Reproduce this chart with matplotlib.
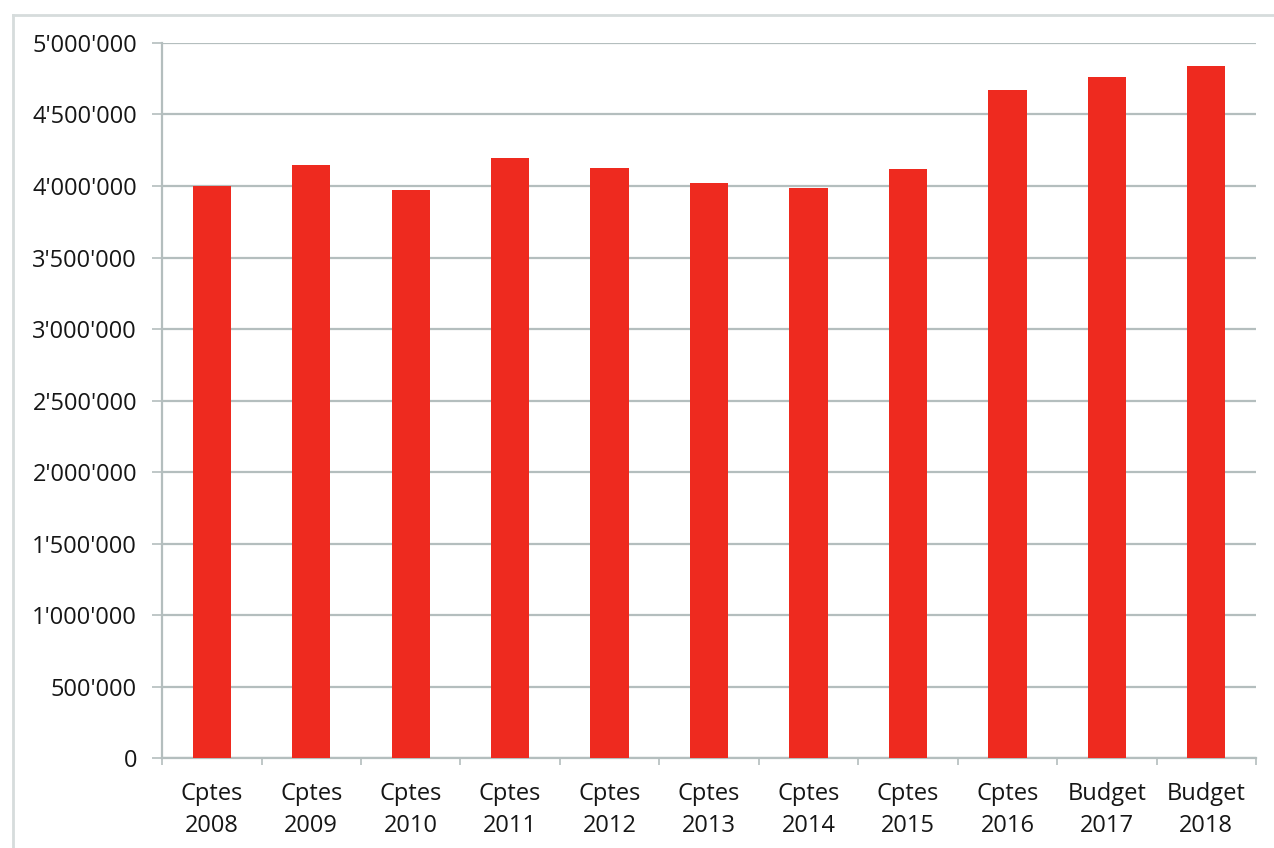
import matplotlib
matplotlib.use("Agg")
import matplotlib.pyplot as plt
from matplotlib.ticker import FuncFormatter, FixedLocator
from matplotlib.lines import Line2D

# Data
labels = ["Cptes\n2008", "Cptes\n2009", "Cptes\n2010", "Cptes\n2011", "Cptes\n2012",
          "Cptes\n2013", "Cptes\n2014", "Cptes\n2015", "Cptes\n2016",
          "Budget\n2017", "Budget\n2018"]
values = [4002000, 4145000, 3974000, 4196000, 4128000,
          4019000, 3988000, 4121000, 4673000, 4759000, 4836000]
yticks = [0, 500000, 1000000, 1500000, 2000000, 2500000,
          3000000, 3500000, 4000000, 4500000, 5000000]

plt.rcParams['font.family'] = ['Open Sans', 'DejaVu Sans']

fig = plt.figure(figsize=(12.74, 8.48), dpi=100)
ax = fig.add_axes([0.1272, 0.1061, 0.8587, 0.8432])

x = list(range(len(values)))
ax.bar(x, values, width=0.385, color='#EE2A1F', zorder=3)

ax.set_xlim(-0.5, len(values) - 0.5)
ax.set_ylim(0, 5000000)

grid_col = '#b4bebe'
ax.set_yticks(yticks)
ax.yaxis.set_major_formatter(FuncFormatter(lambda v, p: f"{int(v):,}".replace(",", "'")))
ax.yaxis.grid(True, color=grid_col, linewidth=1.6, zorder=0)

# category boundaries get the tick marks, labels sit in between
ax.xaxis.set_major_locator(FixedLocator([i - 0.5 for i in range(len(values) + 1)]))
ax.xaxis.set_minor_locator(FixedLocator(x))
ax.set_xticklabels([""] * (len(values) + 1))
ax.set_xticklabels(labels, minor=True)

ax.tick_params(axis='y', length=7, width=1.2, color=grid_col, pad=11,
               labelsize=17, labelcolor='#161616')
ax.tick_params(axis='x', which='major', length=5, width=1.2, color=grid_col, direction='out')
ax.tick_params(axis='x', which='minor', length=0, pad=17, labelsize=17,
               labelcolor='#161616')
for t in ax.get_xticklabels(minor=True):
    t.set_linespacing(1.45)

for s in ['top', 'right']:
    ax.spines[s].set_visible(False)
for s in ['left', 'bottom']:
    ax.spines[s].set_color(grid_col)
    ax.spines[s].set_linewidth(1.6)

# outer chart frame
frame_col = '#d6dcdc'
fig.add_artist(Line2D([13 / 1274, 13 / 1274], [0, 1 - 15 / 848], transform=fig.transFigure,
                      color=frame_col, linewidth=2))
fig.add_artist(Line2D([13 / 1274, 1], [1 - 15 / 848, 1 - 15 / 848], transform=fig.transFigure,
                      color=frame_col, linewidth=2))

plt.savefig('out.png', dpi=100)
